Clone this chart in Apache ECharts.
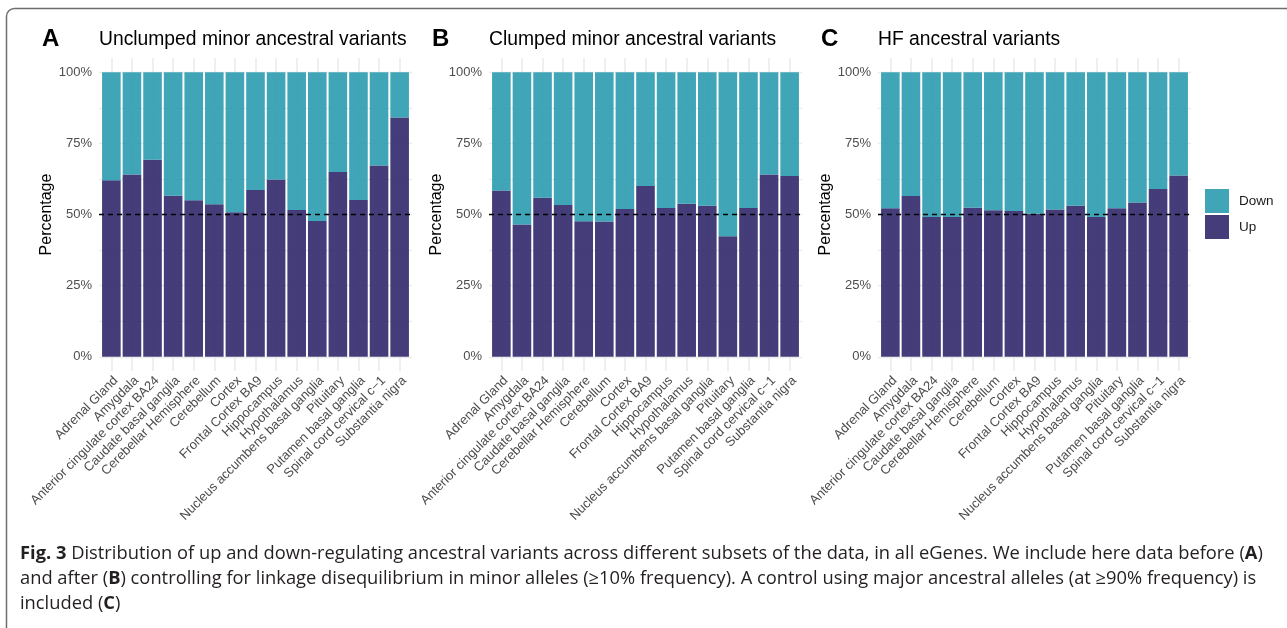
<!DOCTYPE html>
<html>
<head>
<meta charset="utf-8">
<script src="https://cdn.jsdelivr.net/npm/echarts@6/dist/echarts.min.js"></script>
<style>
  html, body { margin: 0; padding: 0; background: #fff; }
  #wrap { position: relative; width: 1287px; height: 628px; overflow: hidden; }
  #chart { position: absolute; left: 0; top: 0; width: 1287px; height: 628px; }
  .cap { position: absolute; left: 20px; white-space: nowrap; color: #231f20;
         font-family: "Open Sans", "Noto Sans", sans-serif;
         font-size: 18px; transform-origin: 0 50%; }
  .cap b { font-weight: bold; }
</style>
</head>
<body>
<div id="wrap">
  <div id="chart"></div>
  <div class="cap" id="cap1" style="top:540px"><b>Fig. 3</b> Distribution of up and down-regulating ancestral variants across different subsets of the data, in all eGenes. We include here data before (<b>A</b>)</div>
  <div class="cap" id="cap2" style="top:565px">and after (<b>B</b>) controlling for linkage disequilibrium in minor alleles (&ge;10% frequency). A control using major ancestral alleles (at &ge;90% frequency) is</div>
  <div class="cap" id="cap3" style="top:590px">included (<b>C</b>)</div>
</div>
<script>
// Tissues on the x axis (same order in every panel)
const tissues = [
  'Adrenal Gland', 'Amygdala', 'Anterior cingulate cortex BA24', 'Caudate basal ganglia',
  'Cerebellar Hemisphere', 'Cerebellum', 'Cortex', 'Frontal Cortex BA9', 'Hippocampus',
  'Hypothalamus', 'Nucleus accumbens basal ganglia', 'Pituitary', 'Putamen basal ganglia',
  'Spinal cord cervical c\u22121', 'Substantia nigra'
];

// Percentage of up- and down-regulating ancestral variants per tissue
const upA   = [62.0, 64.1, 69.2, 56.6, 55.0, 53.6, 50.8, 58.6, 62.3, 51.6, 47.7, 64.9, 55.1, 67.2, 84.1];
const downA = [38.0, 35.9, 30.8, 43.4, 45.0, 46.4, 49.2, 41.4, 37.7, 48.4, 52.3, 35.1, 44.9, 32.8, 15.9];
const upB   = [58.4, 46.5, 55.9, 53.3, 47.6, 47.5, 51.9, 60.0, 52.3, 53.8, 53.1, 42.4, 52.3, 64.1, 63.5];
const downB = [41.6, 53.5, 44.1, 46.7, 52.4, 52.5, 48.1, 40.0, 47.7, 46.2, 46.9, 57.6, 47.7, 35.9, 36.5];
const upC   = [52.2, 56.5, 49.1, 49.1, 52.4, 51.5, 51.2, 50.3, 51.8, 53.1, 49.1, 52.2, 54.2, 59.0, 63.7];
const downC = [47.8, 43.5, 50.9, 50.9, 47.6, 48.5, 48.8, 49.7, 48.2, 46.9, 50.9, 47.8, 45.8, 41.0, 36.3];

const panelLetters = ['A', 'B', 'C'];
const panelTitles = ['Unclumped minor ancestral variants', 'Clumped minor ancestral variants', 'HF ancestral variants'];
const yTicks = [0, 25, 50, 75, 100];
const yGrid = [0, 12.5, 25, 37.5, 50, 62.5, 75, 87.5, 100];
const referenceLevel = 50;

const FONT = '"Liberation Sans", Arial, Helvetica, sans-serif';
const UP_COLOR = 'rgba(48, 40, 108, 0.9)';
const DOWN_COLOR = 'rgba(43, 156, 175, 0.9)';
const GRID_COLOR = '#EBEBEB';

const panels = [
  { up: upA, down: downA, left: 99 },
  { up: upB, down: downB, left: 489 },
  { up: upC, down: downC, left: 878 }
];
const panelTop = 58, panelSize = 313;
const positions = tissues.map((t, i) => i + 1);

const grids = [], xAxes = [], yAxes = [], series = [], graphics = [];

// each bar record is [percentage, position]; the percentage comes first so it is the stacked dimension
const barSeries = (name, k, values, color) => ({
  name: name, type: 'bar', stack: 'p' + k, xAxisIndex: k, yAxisIndex: k,
  barWidth: 18.6, itemStyle: { color: color },
  encode: { x: 1, y: 0 },
  data: positions.map((x, i) => [values[i], x])
});

panels.forEach((p, k) => {
  grids.push({ left: p.left, top: panelTop, width: panelSize, height: panelSize, containLabel: false });
  xAxes.push({
    type: 'value', gridIndex: k, min: 0.4, max: 15.6,
    axisLine: { show: false },
    axisTick: { show: false, customValues: positions },
    splitLine: { show: true, lineStyle: { color: GRID_COLOR, width: 1.6 } },
    axisLabel: {
      customValues: positions, rotate: 45, margin: 3, verticalAlign: 'top',
      color: '#4D4D4D', fontFamily: FONT, fontSize: 13,
      formatter: v => tissues[Math.round(v) - 1] || ''
    }
  });
  yAxes.push({
    type: 'value', gridIndex: k, min: -5, max: 105,
    axisLine: { show: false },
    axisTick: { show: false, customValues: yGrid },
    splitLine: { show: true, lineStyle: { color: GRID_COLOR, width: 1.4 } },
    axisLabel: {
      customValues: yTicks, margin: 7,
      color: '#4D4D4D', fontFamily: FONT, fontSize: 13,
      formatter: v => v + '%'
    },
    name: 'Percentage', nameLocation: 'middle', nameGap: 44, nameRotate: 90,
    nameTextStyle: { color: '#000', fontFamily: FONT, fontSize: 16 }
  });
  const up = barSeries('Up', k, p.up, UP_COLOR);
  up.markLine = {
    silent: true, symbol: 'none', label: { show: false },
    lineStyle: { color: '#000', type: [5, 4], width: 1.3 },
    data: [{ yAxis: referenceLevel }], z: 10
  };
  series.push(up);
  series.push(barSeries('Down', k, p.down, DOWN_COLOR));
  graphics.push({
    type: 'text', x: p.left - 57, y: 39,
    style: { text: panelLetters[k], font: 'bold 24px ' + FONT, fill: '#000', textVerticalAlign: 'middle' }
  });
  graphics.push({
    type: 'text', x: p.left, y: 40,
    style: { text: panelTitles[k], font: '19.3px ' + FONT, fill: '#000', textVerticalAlign: 'middle' }
  });
});

// figure frame
graphics.push({
  type: 'rect', silent: true,
  shape: { x: 6.5, y: 8.5, width: 1320, height: 700, r: 8 },
  style: { fill: 'none', stroke: '#6E6E6E', lineWidth: 1.5 }
});

const chart = echarts.init(document.getElementById('chart'), null, { renderer: 'canvas' });
chart.setOption({
  animation: false,
  backgroundColor: '#fff',
  grid: grids,
  xAxis: xAxes,
  yAxis: yAxes,
  legend: {
    data: ['Down', 'Up'], orient: 'vertical', left: 1200, top: 184,
    itemWidth: 24, itemHeight: 24, itemGap: 2, icon: 'rect',
    textStyle: { color: '#1a1a1a', fontFamily: FONT, fontSize: 13.5, padding: [0, 0, 0, 5] }
  },
  series: series,
  graphic: graphics
});

// condense caption lines to the column width
(function () {
  const l1 = document.getElementById('cap1');
  const s = 1243 / l1.scrollWidth;
  ['cap1', 'cap2', 'cap3'].forEach(id => {
    document.getElementById(id).style.transform = 'scaleX(' + s + ')';
  });
})();
</script>
</body>
</html>
